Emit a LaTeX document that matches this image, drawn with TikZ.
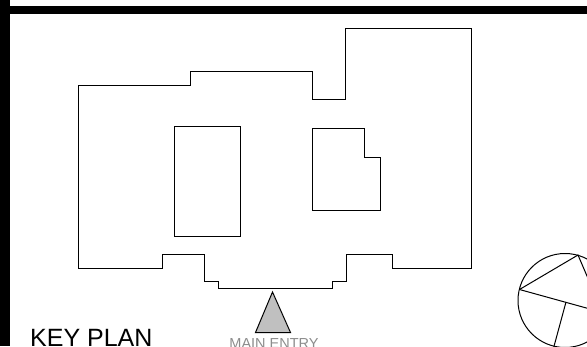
\documentclass[tikz,border=0pt]{standalone}
\usepackage{fontspec}
\setmainfont{Liberation Sans}
\definecolor{entrygray}{HTML}{C0C0C0}
\definecolor{labelgray}{HTML}{8C8C8C}
\tikzset{
  planline/.style={line width=1pt,line join=miter},
  border/.style={fill=black,draw=none},
}
\begin{document}
\begin{tikzpicture}[x=1pt,y=-1pt]
        \clip (0,0) rectangle (587,346);
        \fill[border] (0,5.5) rectangle (587,14.2);
        \fill[border] (0,0) rectangle (9.5,346);
        % outer walls
        \draw[planline] (78.5,85) -- (190.5,85) -- (190.5,71) -- (312.5,71) -- (312.5,99) -- (345.5,99) -- (345.5,28) -- (471,28)
          -- (471,268) -- (392,268) -- (392,254.5) -- (346,254.5) -- (346,281.5) -- (332,281.5) -- (332,288) -- (218.5,288)
          -- (218.5,281.5) -- (204,281.5) -- (204,254.5) -- (162,254.5) -- (162,268) -- (78.5,268) -- cycle;
        % inner courts
        \draw[planline] (174.5,126) rectangle (240.5,236.5);
        \draw[planline] (312.5,128) -- (364.5,128) -- (364.5,157) -- (380,157) -- (380,210) -- (312.5,210) -- cycle;
        % entry
        \draw[planline,fill=entrygray] (272.5,292) -- (290.5,332.5) -- (255.5,332.5) -- cycle;
        \node[text=labelgray,font=\fontsize{14.5}{16}\selectfont,anchor=base] (entry) at (274,348.5) {MAIN ENTRY};
        \node[font=\fontsize{25}{27}\selectfont,anchor=base west,inner sep=0pt] (title) at (30,346.5) {KEY PLAN};
        % north point
        \coordinate (n1) at (519.5,289.5);
        \coordinate (n2) at (578,255);
        \coordinate (n3) at (566,302);
        \draw[planline] (565,300.5) circle (47);
        \draw[planline] (n1) -- (n2) -- (590,283);
        \draw[planline] (n1) -- (590,309);
        \draw[planline] (n3) -- (553,350);
      \end{tikzpicture}
\end{document}
